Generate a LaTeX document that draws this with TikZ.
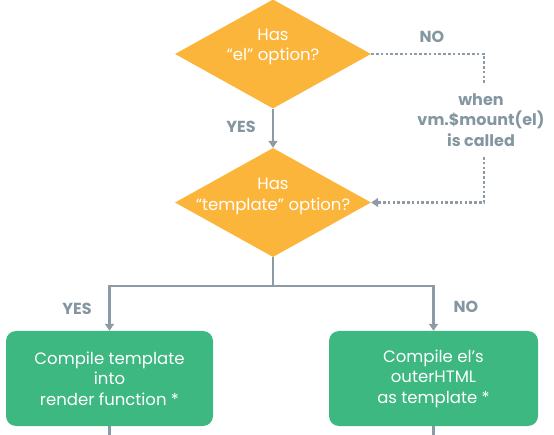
\documentclass[tikz,border=0pt]{standalone}
\usepackage{fontspec}
\setmainfont{Poppins}
\usetikzlibrary{shapes.geometric,arrows.meta}
\definecolor{vorange}{HTML}{FBB53B}
\definecolor{vgreen}{HTML}{3DB881}
\definecolor{vgrey}{HTML}{8C9BA5}
\definecolor{vlabel}{HTML}{8497A1}
\tikzset{
  decision/.style={shape=diamond,fill=vorange,draw=none,inner sep=0pt,minimum width=196pt,minimum height=109pt},
  dtext/.style={text=white,align=center,font=\fontsize{16.5pt}{20.5pt}\selectfont},
  process/.style={fill=vgreen,draw=none,rounded corners=10pt,text=white,align=center,font=\fontsize{16.5pt}{20.5pt}\selectfont,minimum height=95pt,inner sep=0pt},
  lbl/.style={text=vlabel,font=\bfseries\fontsize{16pt}{20.5pt}\selectfont,align=center},
  conn/.style={draw=vgrey,line width=2.2pt},
  arr/.style={conn,-{Triangle[width=9pt,length=7pt]}},
  dotline/.style={draw=vgrey,line width=2.2pt,dash pattern=on 2.6pt off 2.2pt},
  dotarr/.style={dotline,-{Triangle[width=9pt,length=7pt]}},
}
\begin{document}
\begin{tikzpicture}[x=1pt,y=-1pt]
\useasboundingbox (0,0) rectangle (554,435);
\node[decision] (d1) at (273,54) {};
\node[dtext] (t1) at (273,47) {Has\\“el” option?};
\node[decision] (d2) at (273,202.5) {};
\node[dtext] (t2) at (273,196.5) {Has\\“template” option?};
\node[process,minimum width=207pt] (b1) at (109.5,378.5) {Compile template\\into\\render function *};
\node[process,minimum width=209pt] (b2) at (433.5,378.5) {Compile el’s\\outerHTML\\as template *};
\coordinate (split) at (273,286);
\coordinate (ldown) at (109.5,286);
\coordinate (rdown) at (433.5,286);
\coordinate (lend) at (109.5,435);
\coordinate (rend) at (433.5,435);
\coordinate (c1) at (484,54);
\coordinate (c2) at (484,83);
\coordinate (c3) at (484,157);
\coordinate (c4) at (484,202.5);
% connectors
\draw[arr] (d1.south) -- (d2.north);
\draw[conn] (d2.south) -- (split);
\draw[arr] (split) -- (ldown) -- (b1.north);
\draw[arr] (split) -- (rdown) -- (b2.north);
\draw[conn] (b1.south) -- (lend);
\draw[conn] (b2.south) -- (rend);
\draw[dotline] (d1.east) -- (c1) -- (c2);
\draw[dotarr] (c3) -- (c4) -- (d2.east);
% labels
\node[lbl] (yes1) at (241,127) {YES};
\node[lbl] (no1) at (432,37) {NO};
\node[lbl] (when) at (481,120) {when\\vm.\$mount(el)\\is called};
\node[lbl] (yes2) at (77,309) {YES};
\node[lbl] (no2) at (466,307) {NO};
\end{tikzpicture}
\end{document}
